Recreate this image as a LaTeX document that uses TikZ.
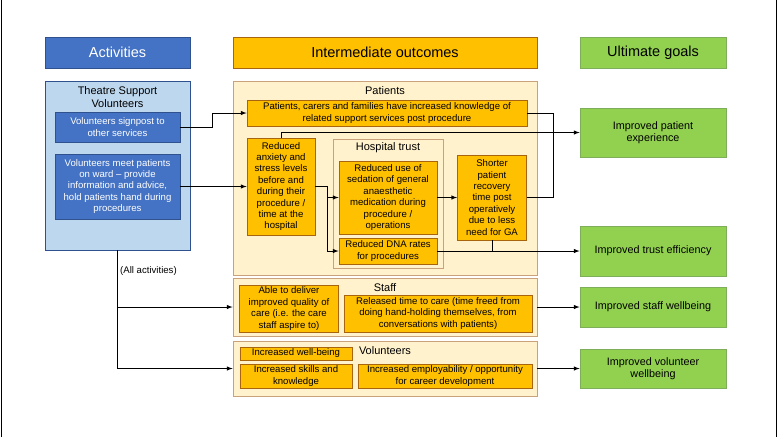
\documentclass[tikz,border=0pt]{standalone}
\usepackage{fontspec}
\setmainfont{Liberation Sans}
\usepackage{tikz}
\usetikzlibrary{arrows.meta}
\tikzset{>=latex}
\definecolor{hdblue}{HTML}{4472C4}
\definecolor{hdline}{HTML}{2F528F}
\definecolor{ltblue}{HTML}{BDD7EE}
\definecolor{orng}{HTML}{FFC000}
\definecolor{orline}{HTML}{A8650E}
\definecolor{cream}{HTML}{FFF2CC}
\definecolor{crline}{HTML}{C9A27C}
\definecolor{grn}{HTML}{92D050}
\definecolor{grline}{HTML}{7FAE5A}
\tikzset{
  hd/.style={draw, line width=0.8pt, align=center, font=\fontsize{14.5}{16}\selectfont, inner sep=0pt},
  bx/.style={draw, line width=0.8pt, align=center, inner sep=0pt, font=\fontsize{9.6}{11.4}\selectfont},
  ob/.style={bx, draw=orline, fill=orng},
  wb/.style={bx, draw=hdline, fill=hdblue, text=white},
  gb/.style={bx, draw=grline, fill=grn, font=\fontsize{10.8}{12.5}\selectfont},
  cont/.style={draw=crline, fill=cream, line width=0.8pt, inner sep=0pt},
  ttl/.style={font=\fontsize{11}{12.5}\selectfont, align=center, inner sep=0pt},
  ln/.style={line width=1pt}
}
\begin{document}
\begin{tikzpicture}[x=1pt,y=-1pt]
\useasboundingbox (0,0) rectangle (778,437);
\draw (1,0) -- (1,437);
\draw (776,0) -- (776,437);

% headers
\node[hd, draw=hdline, fill=hdblue, text=white, minimum width=145pt, minimum height=31pt] (ha) at (117.5,52.5) {Activities};
\node[hd, draw=orline, fill=orng, minimum width=304pt, minimum height=31pt] (hi) at (385,52.5) {Intermediate outcomes};
\node[hd, draw=grline, fill=grn, minimum width=146pt, minimum height=31pt] (hu) at (653,52.5) {Ultimate goals};

% activities
\node[cont, draw=hdline, fill=ltblue, minimum width=145pt, minimum height=169pt] (act) at (117.5,165.5) {};
\node[ttl] (actt) at (117.5,97) {Theatre Support\\Volunteers};
\node[wb, minimum width=125pt, minimum height=30pt] (sign) at (117.5,127) {Volunteers signpost to\\other services};
\node[wb, minimum width=125pt, minimum height=65pt] (meet) at (117.5,186.5) {Volunteers meet patients\\on ward -- provide\\information and advice,\\hold patients hand during\\procedures};

% patients
\node[cont, minimum width=304pt, minimum height=194pt] (pat) at (385,178) {};
\node[ttl] (patt) at (385,91) {Patients};
\node[ob, minimum width=280pt, minimum height=26pt] (know) at (387,113) {Patients, carers and families have increased knowledge of\\related support services post procedure};
\node[ob, minimum width=68pt, minimum height=97pt] (anx) at (281,186.5) {Reduced\\anxiety and\\stress levels\\before and\\during their\\procedure /\\time at the\\hospital};
\node[cont, minimum width=110pt, minimum height=129pt] (trust) at (388,203.5) {};
\node[ttl] (trustt) at (388,148) {Hospital trust};
\node[ob, minimum width=98pt, minimum height=73pt] (sed) at (388,197.5) {Reduced use of\\sedation of general\\anaesthetic\\medication during\\procedure /\\operations};
\node[ob, minimum width=98pt, minimum height=26pt] (dna) at (388,251) {Reduced DNA rates\\for procedures};
\node[ob, minimum width=69pt, minimum height=85pt] (short) at (492,197.5) {Shorter\\patient\\recovery\\time post\\operatively\\due to less\\need for GA};

% staff
\node[cont, minimum width=304pt, minimum height=58pt] (staff) at (385,307) {};
\node[ttl] (stafft) at (385,288) {Staff};
\node[ob, minimum width=99pt, minimum height=47pt] (able) at (289,308.5) {Able to deliver\\improved quality of\\care (i.e. the care\\staff aspire to)};
\node[ob, minimum width=188pt, minimum height=37pt] (rel) at (438,313.5) {Released time to care (time freed from\\doing hand-holding themselves, from\\conversations with patients)};

% volunteers
\node[cont, minimum width=304pt, minimum height=55pt] (vol) at (385,368.5) {};
\node[ttl] (volt) at (385,351) {Volunteers};
\node[ob, minimum width=112pt, minimum height=13pt] (well) at (296,353.5) {Increased well-being};
\node[ob, minimum width=112pt, minimum height=24pt] (skill) at (296,376) {Increased skills and\\knowledge};
\node[ob, minimum width=174pt, minimum height=24pt] (empl) at (445,376) {Increased employability / opportunity\\for career development};

% goals
\node[gb, minimum width=146pt, minimum height=49pt] (gexp) at (653,132.5) {Improved patient\\experience};
\node[gb, minimum width=146pt, minimum height=50pt] (geff) at (653,251) {Improved trust efficiency};
\node[gb, minimum width=146pt, minimum height=40pt] (gsta) at (653,307) {Improved staff wellbeing};
\node[gb, minimum width=146pt, minimum height=39pt] (gvol) at (653,368.5) {Improved volunteer\\wellbeing};

\coordinate (jp) at (553,0);
\coordinate (ja) at (327,0);

% signpost to knowledge
\draw[ln,->] (sign.east) -- ++(32,0) |- (know.west);
% meet to anxiety
\draw[ln,->] (meet.east) -- (anx.west);
% knowledge and shorter join
\draw[ln] (know.east) -| (jp |- short.east) -- (short.east);
% anxiety to patient experience
\draw[ln,->] (anx.north) |- (gexp.west);
% anxiety to sedation and DNA
\draw[ln,->] (anx.east) -| (ja |- sed.west) -- (sed.west);
\draw[ln,->] (ja |- sed.west) |- (dna.west);
% sedation to shorter
\draw[ln,->] (sed.east) -- (short.west);
% DNA to trust efficiency
\draw[ln,->] (dna.east) -- (geff.west);
\draw[ln] (short.south) -- (short.south |- dna.east);
% all activities
\draw[ln,->] (act.south) |- (staff.west);
\draw[ln,->] (act.south) |- (vol.west);
\node[anchor=west, font=\fontsize{9.6}{11}\selectfont, inner sep=1pt] (allact) at (119,271) {(All activities)};
% staff and volunteers to goals
\draw[ln,->] (staff.east) -- (gsta.west);
\draw[ln,->] (vol.east) -- (gvol.west);
\end{tikzpicture}
\end{document}
